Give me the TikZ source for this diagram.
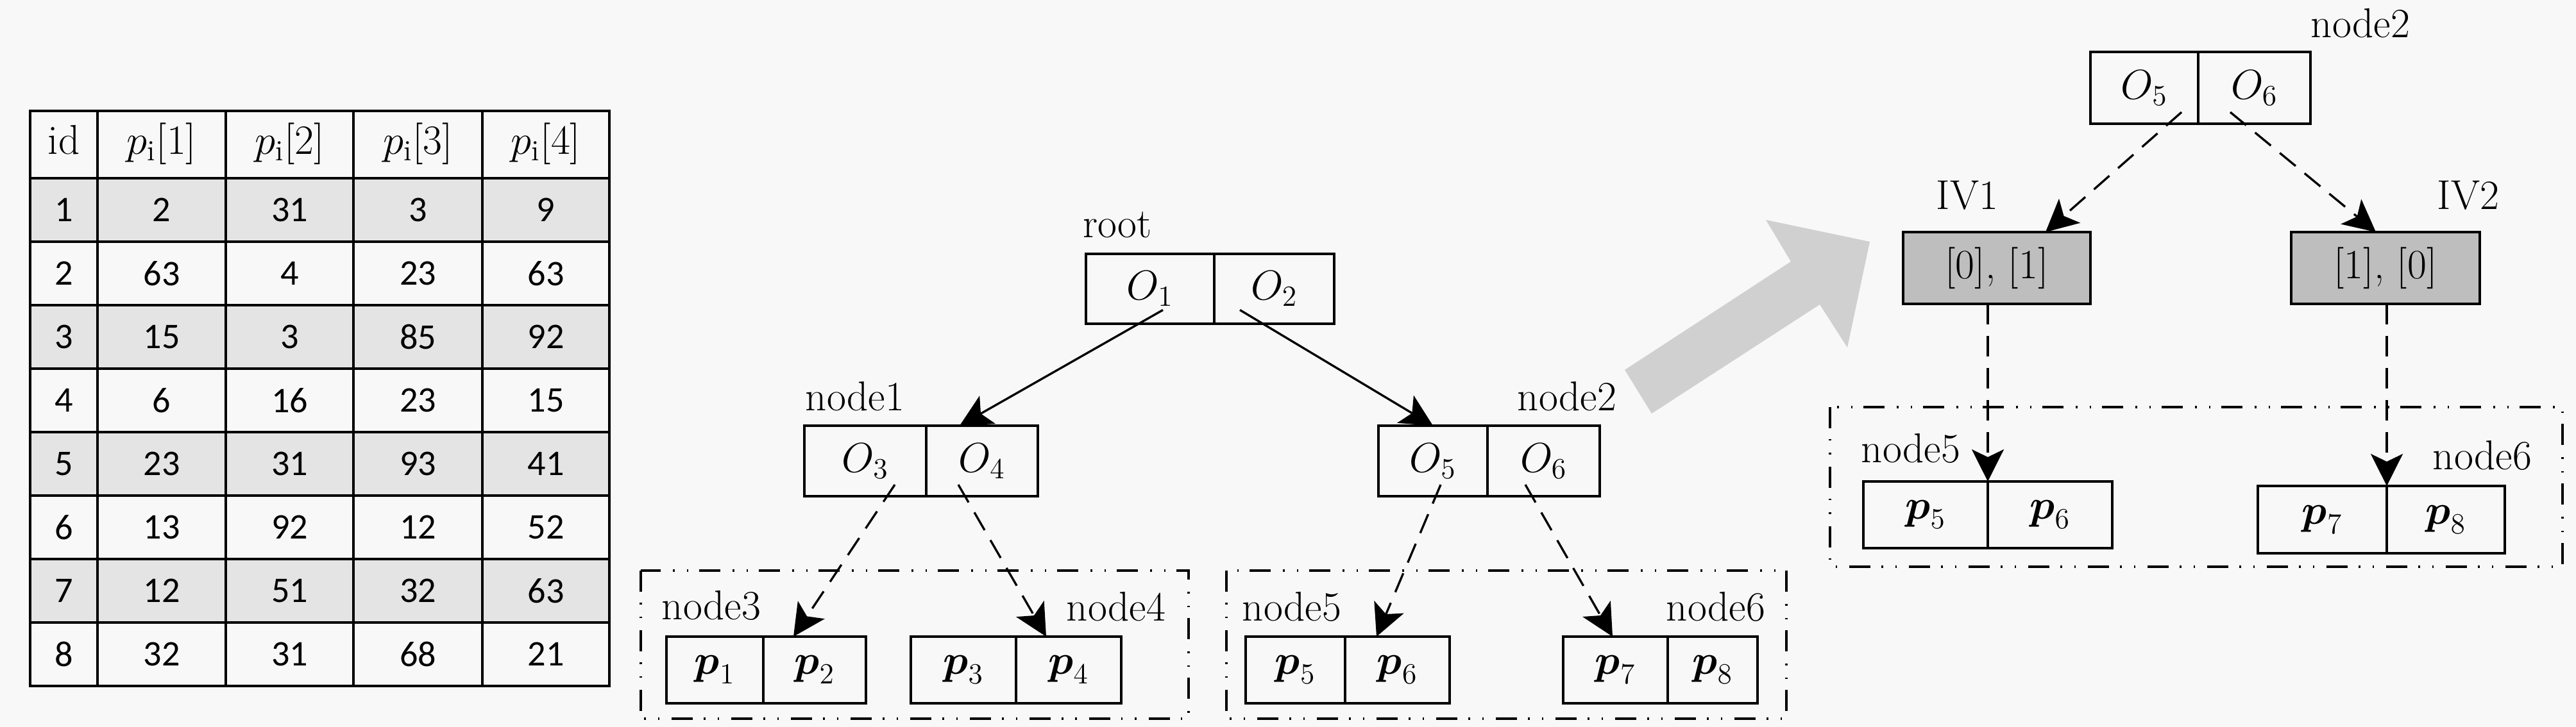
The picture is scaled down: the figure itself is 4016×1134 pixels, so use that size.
\RequirePackage{fix-cm}
\documentclass[tikz,border=0pt]{standalone}
\usepackage{amsmath,amssymb}
\usepackage{fontspec}
\newfontfamily\numfont{Carlito}
\usetikzlibrary{arrows.meta,positioning}
\definecolor{bggray}{RGB}{248,248,248}
\definecolor{rowgray}{RGB}{228,228,228}
\definecolor{ivgray}{RGB}{190,190,190}
\definecolor{bigarrow}{RGB}{208,208,208}

\begin{document}
\begin{tikzpicture}[x=0.1mm, y=-0.1mm,
	every node/.style={font=\fontsize{18.5}{22}\selectfont, inner sep=0pt},
	>={Stealth[length=5mm, width=5mm, inset=1.2mm]},
	cell/.style 2 args={draw, line width=1.1pt, outer sep=0pt, minimum width=#1, minimum height=#2},
	lbl/.style={anchor=base},
	treelink/.style={->, line width=0.95pt},
	dashlink/.style={treelink, dash pattern=on 3.2mm off 1.8mm},
	leafframe/.style={line width=0.95pt, dash pattern=on 3.3mm off 1.7mm on 0.25mm off 1.9mm on 0.25mm off 1.9mm},
	num/.style={font=\fontsize{16}{19}\selectfont\numfont}]
	\fill[bggray] (0,0) rectangle (4016,1134);
	\useasboundingbox (0,0) rectangle (4016,1134);
	% table
	\begin{scope}
		\foreach \r in {1,3,5,7} \fill[rowgray] (47,{278+99*(\r-1)}) rectangle (950,{278+99*\r});
		\foreach \x in {152,352,551,752} \draw[line width=1.1pt] (\x,173) -- (\x,1070);
		\foreach \r in {0,...,7} \draw[line width=1.1pt] (47,{278+99*\r}) -- (950,{278+99*\r});
		\draw[line width=1.3pt] (47,173) rectangle (950,1070);
		\node[lbl] (hid) at (99.5,241) {id};
		\foreach \c/\x in {1/252,2/451.5,3/651.5,4/851} \node[lbl] (hp\c) at (\x,241) {$p_{\mathrm{i}}[\c]$};
		\foreach \a/\b/\c/\d [count=\r] in {2/31/3/9, 63/4/23/63, 15/3/85/92, 6/16/23/15, 23/31/93/41, 13/92/12/52, 12/51/32/63, 32/31/68/21} {
			\node[num] (t\r-0) at (99.5,{278+99*\r-49.5}) {\r};
			\node[num] (t\r-1) at (252,{278+99*\r-49.5}) {\a};
			\node[num] (t\r-2) at (451.5,{278+99*\r-49.5}) {\b};
			\node[num] (t\r-3) at (651.5,{278+99*\r-49.5}) {\c};
			\node[num] (t\r-4) at (851,{278+99*\r-49.5}) {\d};
		}
	\end{scope}
	% tree
	\begin{scope}
		\node[cell={20mm}{10.9mm}] (rootL) at (1793,450.5) {$O_1$};
		\node[cell={18.7mm}{10.9mm}, right=0pt of rootL] (rootR) {$O_2$};
		\node[cell={19mm}{11mm}] (n1L) at (1349,719) {$O_3$};
		\node[cell={17.4mm}{11mm}, right=0pt of n1L] (n1R) {$O_4$};
		\node[cell={17mm}{11mm}] (n2L) at (2234,719) {$O_5$};
		\node[cell={17.5mm}{11mm}, right=0pt of n2L] (n2R) {$O_6$};
		\node[cell={15.1mm}{10.4mm}] (n3L) at (1114.5,1045) {$\boldsymbol{p}_1$};
		\node[cell={16mm}{10.4mm}, right=0pt of n3L] (n3R) {$\boldsymbol{p}_2$};
		\node[cell={16.4mm}{10.4mm}] (n4L) at (1502,1045) {$\boldsymbol{p}_3$};
		\node[cell={16.4mm}{10.4mm}, right=0pt of n4L] (n4R) {$\boldsymbol{p}_4$};
		\node[cell={15.5mm}{10.4mm}] (n5L) at (2019.5,1045) {$\boldsymbol{p}_5$};
		\node[cell={16.3mm}{10.4mm}, right=0pt of n5L] (n5R) {$\boldsymbol{p}_6$};
		\node[cell={16.3mm}{10.4mm}] (n6L) at (2518.5,1045) {$\boldsymbol{p}_7$};
		\node[cell={14mm}{10.4mm}, right=0pt of n6L] (n6R) {$\boldsymbol{p}_8$};
		\node[lbl] (lroot) at (1742,371) {root};
		\node[lbl] (ln1) at (1333,641) {node1};
		\node[lbl] (ln2) at (2443,641) {node2};
		\node[lbl] (ln3) at (1109,966) {node3};
		\node[lbl] (ln4) at (1740,968) {node4};
		\node[lbl] (ln5) at (2014,968) {node5};
		\node[lbl] (ln6) at (2675,968) {node6};
		\draw[treelink] ([xshift=2mm, yshift=-3.3mm]rootL.center) -- ([xshift=5.2mm]n1R.north west);
		\draw[treelink] ([xshift=-5.35mm, yshift=-3.3mm]rootR.center) -- (n2L.north);
		\draw[dashlink] ([xshift=4.6mm, yshift=-3.7mm]n1L.center) -- ([xshift=4.7mm]n3R.north west);
		\draw[dashlink] ([xshift=-3.7mm, yshift=-3.7mm]n1R.center) -- ([xshift=4.7mm]n4R.north west);
		\draw[dashlink] ([xshift=1.2mm, yshift=-3.7mm]n2L.center) -- ([xshift=4.9mm]n5R.north west);
		\draw[dashlink] ([xshift=-2.85mm, yshift=-3.7mm]n2R.center) -- ([xshift=-0.45mm]n6L.north);
		\draw[leafframe] (999,890) rectangle (1853,1121);
		\draw[leafframe] (1912,890) rectangle (2785,1121);
	\end{scope}
	% big arrow
	\fill[bigarrow] (2533,577) -- (2792,408) -- (2753,343) -- (2915,377) -- (2880,542) -- (2837,475) -- (2575,645) -- cycle;
	% zoomed node2
	\begin{scope}
		\node[cell={16.8mm}{11.2mm}] (m2L) at (3343,137) {$O_5$};
		\node[cell={17.5mm}{11.2mm}, right=0pt of m2L] (m2R) {$O_6$};
		\node[cell={29.2mm}{11.2mm}, fill=ivgray] (iv1) at (3113,418) {[0], [1]};
		\node[cell={29.4mm}{11.2mm}, fill=ivgray] (iv2) at (3719,418) {[1], [0]};
		\node[cell={19.4mm}{10.4mm}] (m5L) at (3002,803) {$\boldsymbol{p}_5$};
		\node[cell={19.4mm}{10.4mm}, right=0pt of m5L] (m5R) {$\boldsymbol{p}_6$};
		\node[cell={20.1mm}{10.5mm}] (m6L) at (3620.5,810.5) {$\boldsymbol{p}_7$};
		\node[cell={18.4mm}{10.5mm}, right=0pt of m6L] (m6R) {$\boldsymbol{p}_8$};
		\node[lbl] (lm2) at (3680,59) {node2};
		\node[lbl] (liv1) at (3067,327) {IV1};
		\node[lbl] (liv2) at (3848,327) {IV2};
		\node[lbl] (lm5) at (2979,722) {node5};
		\node[lbl] (lm6) at (3870,733) {node6};
		\draw[dashlink] ([xshift=5.8mm, yshift=-3.8mm]m2L.center) -- ([xshift=7.6mm]iv1.north);
		\draw[dashlink] ([xshift=-3.75mm, yshift=-3.8mm]m2R.center) -- ([xshift=-1.5mm]iv2.north);
		\draw[dashlink] (m5R.north west |- iv1.south) -- (m5R.north west);
		\draw[dashlink] (m6R.north west |- iv2.south) -- (m6R.north west);
		\draw[leafframe] (2853,635) rectangle (3995,884);
	\end{scope}
\end{tikzpicture}
\end{document}
